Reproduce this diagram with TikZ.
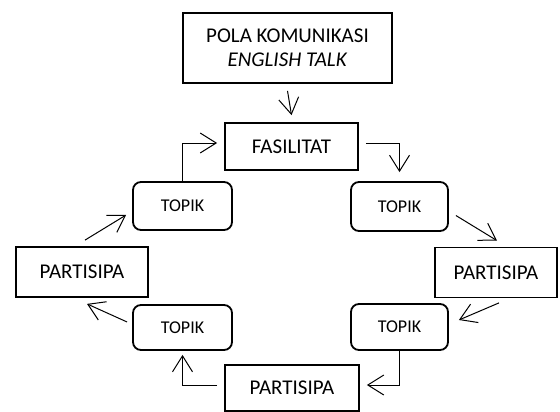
\documentclass[tikz,border=0pt]{standalone}
\usepackage{fontspec}
\setmainfont{Carlito}
\usetikzlibrary{arrows.meta,calc}
\begin{document}
\begin{tikzpicture}[x=1pt,y=-1pt,
  box/.style={draw,line width=1.8pt,inner sep=0pt,align=center,font=\fontsize{21}{24}\selectfont},
  topikbox/.style={draw,line width=1.8pt,rounded corners=8pt,inner sep=0pt,align=center,font=\fontsize{18}{20}\selectfont},
  arr/.style={line width=1pt,-{Straight Barb[length=16pt,width=20pt,line width=1pt]}}]
\useasboundingbox[fill=white] (0,0) rectangle (560,412);
\node[box,minimum width=209pt,minimum height=70pt] (top) at (287.5,48) {POLA KOMUNIKASI\\\textit{ENGLISH TALK}};
\node[box,minimum width=133pt,minimum height=47pt] (FAS) at (291.5,146.5) {FASILITAT};
\node[topikbox,minimum width=99pt,minimum height=48pt] (TTL) at (182.5,206) {TOPIK};
\node[topikbox,minimum width=97pt,minimum height=49pt] (TTR) at (399.5,206.5) {TOPIK};
\node[box,minimum width=132pt,minimum height=50pt] (PL) at (82,272) {PARTISIPA};
\node[box,minimum width=122pt,minimum height=50pt] (PR) at (496,272.5) {PARTISIPA};
\node[topikbox,minimum width=99pt,minimum height=45pt] (TBL) at (182.5,327.5) {TOPIK};
\node[topikbox,minimum width=97pt,minimum height=46pt] (TBR) at (399.5,327) {TOPIK};
\node[box,minimum width=134pt,minimum height=46pt] (PB) at (292,388) {PARTISIPA};
\draw[arr] ($(top.south)+(0,7)$) -- ($(FAS.north)+(0,-7)$);
\draw[arr] (TTL.north) |- ($(FAS.west)+(-7,-3.5)$);
\draw[arr] ($(FAS.east)+(7,-3.5)$) -| ($(TTR.north)+(0,-9)$);
\draw[arr] ($(TTR.east)+(7,9)$) -- ($(PR.north)+(1,-6)$);
\draw[arr] ($(PR.south)+(3,4.5)$) -- ($(TBR.east)+(10,-7)$);
\draw[arr] (TBR.south) |- ($(PB.east)+(7,-3)$);
\draw[arr] ($(PB.west)+(-7,-3)$) -| ($(TBL.south)+(0,4)$);
\draw[arr] ($(TBL.west)+(-5,-5.5)$) -- ($(PL.south)+(5,6)$);
\draw[arr] ($(PL.north)+(3,-6)$) -- ($(TTL.west)+(-6,9)$);
\end{tikzpicture}
\end{document}
